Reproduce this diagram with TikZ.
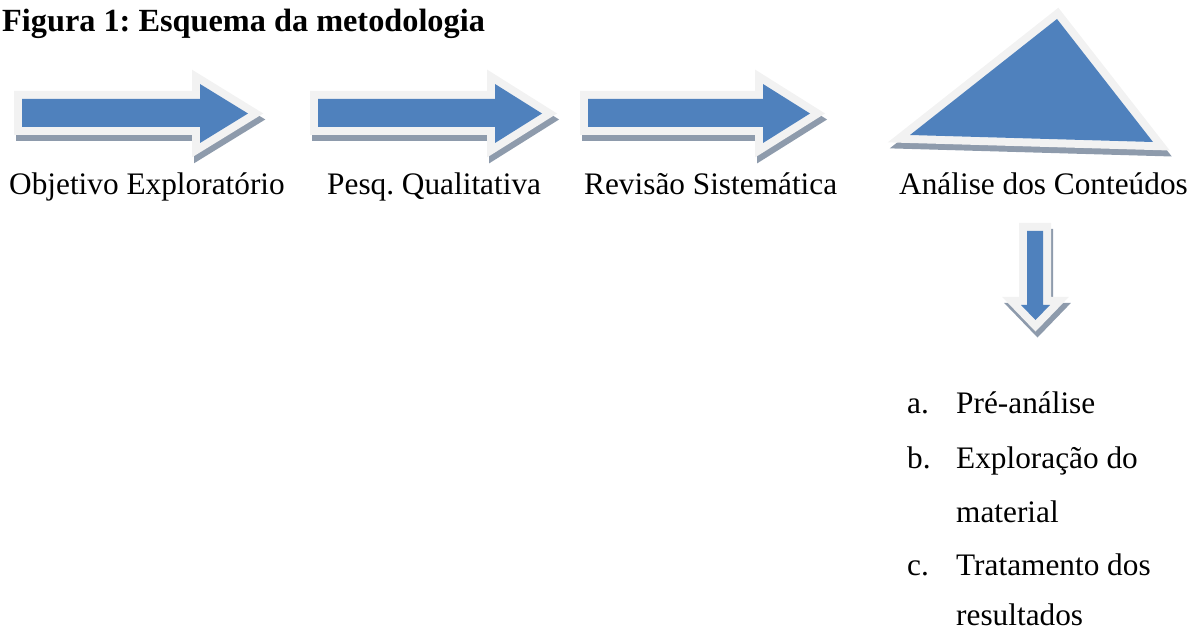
\documentclass[tikz,border=0pt]{standalone}
\usepackage{fontspec}
\setmainfont{Liberation Serif}
\frenchspacing
\definecolor{bluec}{RGB}{79,129,189}
\definecolor{rimc}{RGB}{242,242,242}
\definecolor{shadowc}{RGB}{142,155,172}
\tikzset{
  shadowshape/.style={fill=shadowc, draw=shadowc, line width=16pt, line join=miter, shift={(2,6)}},
  bodyshape/.style={preaction={draw=rimc, line width=16pt, line join=miter}, fill=bluec},
  bodytext/.style={anchor=base west, inner sep=0pt, font=\fontsize{31.3}{37}\selectfont},
  titletext/.style={anchor=base west, inner sep=0pt, font=\fontsize{32.3}{38}\selectfont\bfseries},
}
\newcommand\myrarrow[3]{%
  (#1,99) -- (#2,99) -- (#2,84) -- (#3,113.5) -- (#2,143) -- (#2,127) -- (#1,127) -- cycle}
\begin{document}
\begin{tikzpicture}[x=1pt, y=-1pt]
\useasboundingbox (0,0) rectangle (1197,636);
% title
\node[titletext] (title) at (2,32) {Figura 1: Esquema da metodologia};
% right arrows
\foreach \a/\b/\c in {22/200/248, 318/495/542, 588/763/810}{
  \path[shadowshape] \myrarrow{\a}{\b}{\c};
  \path[bodyshape] \myrarrow{\a}{\b}{\c};
}
% triangle
\path[shadowshape] (1057,19) -- (1153,142) -- (910,135) -- cycle;
\path[bodyshape] (1057,19) -- (1153,142) -- (910,135) -- cycle;
% down arrow
\path[shadowshape] (1027,231) -- (1043,231) -- (1043,305) -- (1050,305) -- (1035.5,320) -- (1021,305) -- (1027,305) -- cycle;
\path[bodyshape] (1027,231) -- (1043,231) -- (1043,305) -- (1050,305) -- (1035.5,320) -- (1021,305) -- (1027,305) -- cycle;
% labels
\node[bodytext] (l1) at (9,195) {Objetivo Exploratório};
\node[bodytext] (l2) at (327,195) {Pesq. Qualitativa};
\node[bodytext] (l3) at (584,195) {Revisão Sistemática};
\node[bodytext] (l4) at (899,195) {Análise dos Conteúdos};
% list
\node[bodytext] (ma) at (907,413) {a.};
\node[bodytext] (ta) at (956,413) {Pré-análise};
\node[bodytext] (mb) at (907,468) {b.};
\node[bodytext] (tb) at (956,468) {Exploração do};
\node[bodytext] (tb2) at (956,522) {material};
\node[bodytext] (mc) at (907,575) {c.};
\node[bodytext] (tc) at (956,575) {Tratamento dos};
\node[bodytext] (tc2) at (956,625) {resultados};
\end{tikzpicture}
\end{document}
